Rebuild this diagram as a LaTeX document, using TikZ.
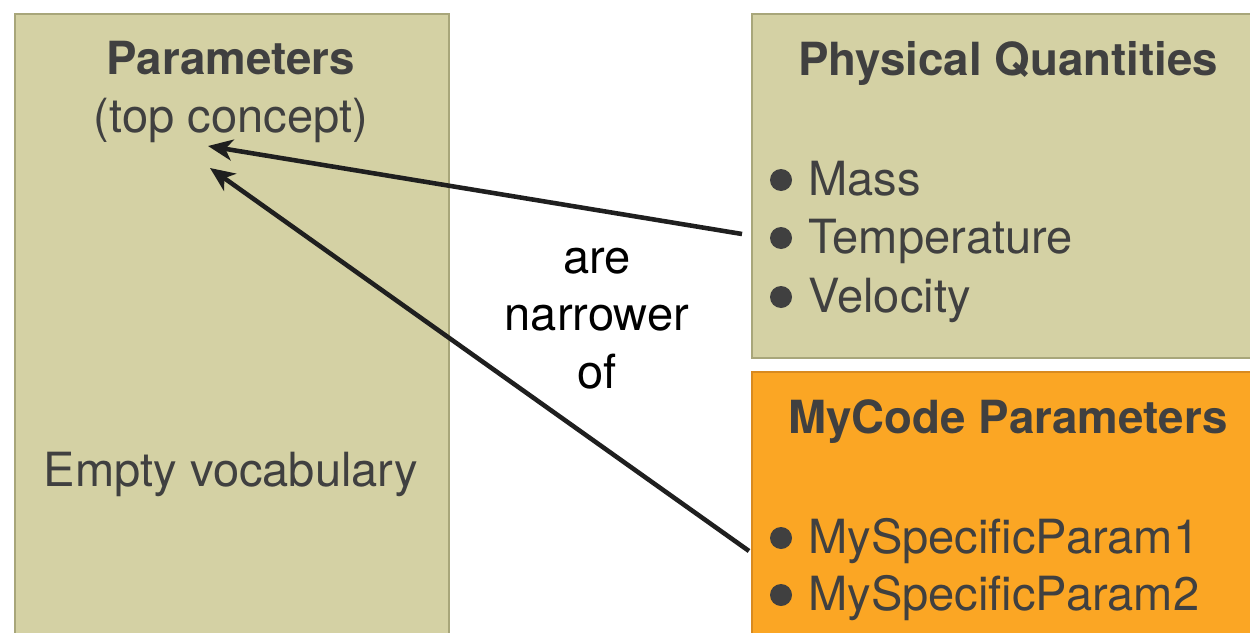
\documentclass[tikz,border=0pt]{standalone}
\usepackage{fontspec}
\setmainfont{TeX Gyre Heros}
\usetikzlibrary{positioning,arrows.meta}

\definecolor{vocabtan}{HTML}{D4D1A4}
\definecolor{vocabedge}{HTML}{A8A67A}
\definecolor{codeorange}{HTML}{FBA624}
\definecolor{codeedge}{HTML}{D88A1F}
\definecolor{textgrey}{HTML}{404040}

\begin{document}
\begin{tikzpicture}[x=0.02cm, y=-0.02cm,
		vocab/.style={draw=vocabedge, fill=vocabtan, line width=1.1pt, anchor=north west},
		mycode/.style={draw=codeedge, fill=codeorange, line width=1.1pt, anchor=north west},
		txt/.style={text=textgrey, inner sep=0pt, anchor=base, font=\fontsize{26.8}{32.6}\selectfont},
		title/.style={txt, font=\fontsize{26}{31}\selectfont\bfseries},
		item/.style={txt, anchor=base west},
		narrower/.style={-{Stealth[length=14pt, width=12pt, inset=4pt]}, line width=2.6pt, draw=black!88}]
		\useasboundingbox (0,0) rectangle (1250,632);
		\clip (0,0) rectangle (1250,632);
		% the three vocabularies
		\node[vocab, minimum width=8.68cm, minimum height=12.8cm] (params) at (14,13) {};
		\node[vocab, minimum width=10.3cm, minimum height=6.88cm] (physq) at (751,13) {};
		\node[mycode, minimum width=10.3cm, minimum height=5.5cm] (codeparams) at (751,371) {};
		% texts
		\node[title] (paramtitle) at (231,74) {Parameters};
		\node[txt] (topconcept) at (231,132) {(top concept)};
		\node[txt] (empty) at (231,486) {Empty vocabulary};
		\node[title] (physqtitle) at (1008,75) {Physical Quantities};
		\node[title] (codetitle) at (1008,433) {MyCode Parameters};
		\foreach \name/\label/\yy in {mass/Mass/195, temp/Temperature/253, velo/Velocity/312,
				param1/MySpecificParam1/553, param2/MySpecificParam2/610} {
			\node[item] (\name) at (808,\yy) {\label};
			\fill[textgrey] (781,\yy-15) circle[radius=0.22cm];
		}
		\node[txt, text=black, align=center] (narrow) at (597,388)
			{are\\narrower\\of};
		% arrows
		\coordinate (physqout) at (742,234);
		\coordinate (codeout) at (749,551);
		\coordinate (topin1) at (208,146);
		\coordinate (topin2) at (210,168);
		\draw[narrower] (physqout) -- (topin1);
		\draw[narrower] (codeout) -- (topin2);
\end{tikzpicture}
\end{document}
